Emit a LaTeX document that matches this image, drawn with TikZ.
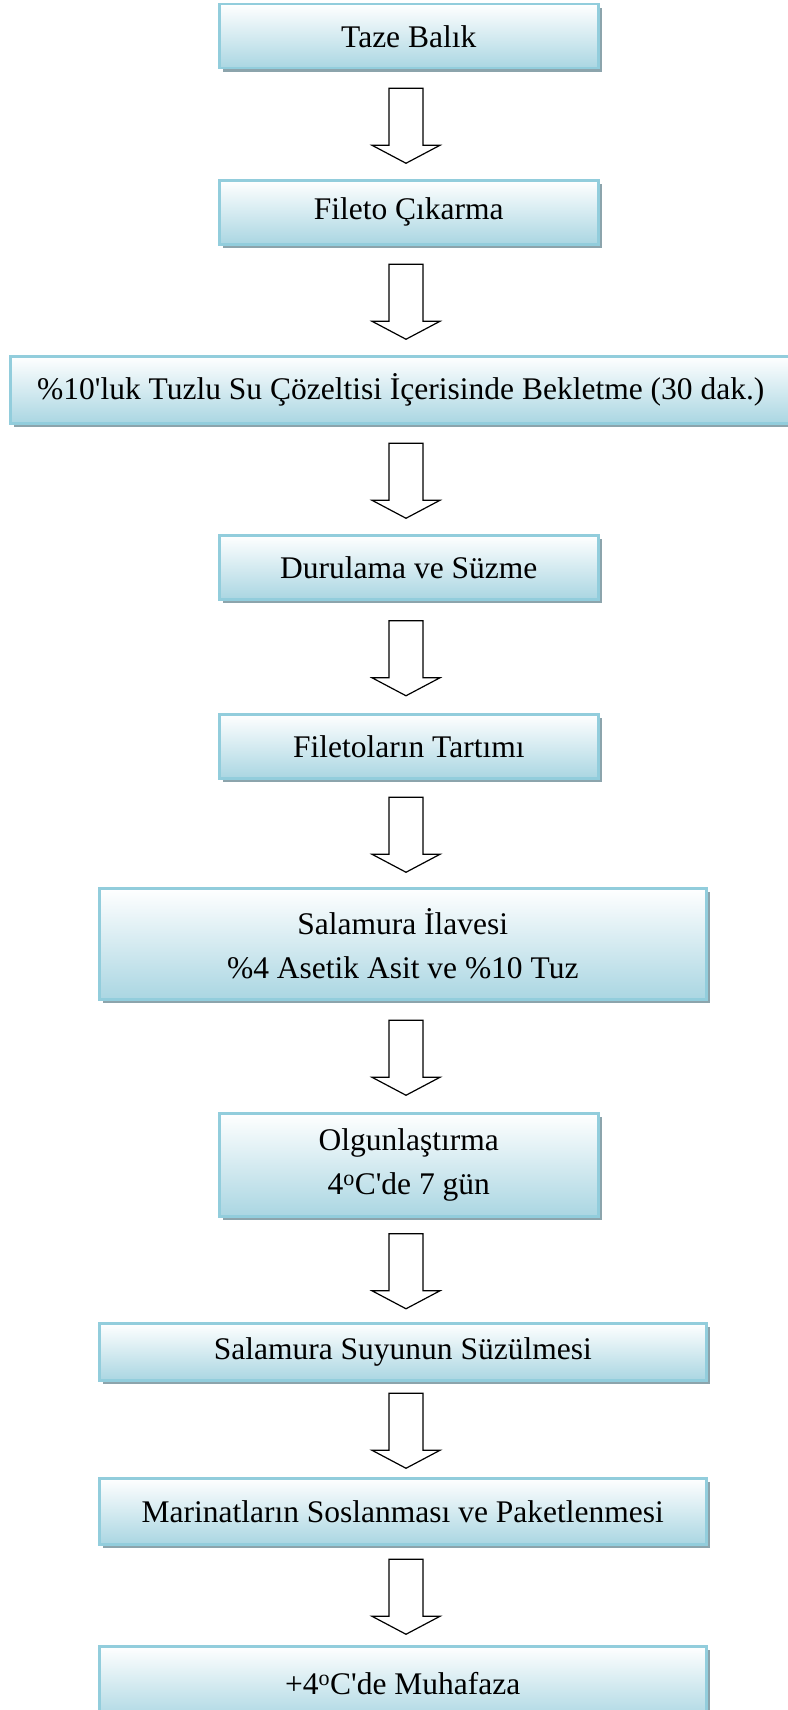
\documentclass[tikz,border=0pt]{standalone}
\usepackage{fontspec}
\setmainfont{Liberation Serif}
\usetikzlibrary{calc,shadows}

\definecolor{edgeblue}{RGB}{146,205,220}
\definecolor{fillblue}{RGB}{170,214,226}
\definecolor{shadowgray}{RGB}{140,164,172}

\begin{document}
\begin{tikzpicture}[x=1pt,y=-1pt,
  stage/.style={draw=edgeblue, line width=2.5pt,
    top color=white, bottom color=fillblue,
    drop shadow={shadow xshift=4pt, shadow yshift=-4pt, fill=shadowgray, opacity=1},
    anchor=north west, inner sep=0pt, align=center,
    font=\fontsize{31.5}{44}\selectfont},
  flow/.style={draw=black, line width=1.2pt, fill=white, line join=miter}]

\useasboundingbox (0,0) rectangle (787,1710);

% process steps
\node[stage, minimum width=379pt, minimum height=64pt]  (b1)  at (218,3)    {Taze Balık};
\node[stage, minimum width=379pt, minimum height=64pt]  (b2)  at (218,179)  {Fileto Çıkarma};
\node[stage, minimum width=781pt, minimum height=67pt]  (b3)  at (9,355)    {\%10\textquotesingle luk Tuzlu Su Çözeltisi İçerisinde Bekletme (30 dak.)};
\node[stage, minimum width=379pt, minimum height=64pt]  (b4)  at (218,534)  {Durulama ve Süzme};
\node[stage, minimum width=379pt, minimum height=64pt]  (b5)  at (218,713)  {Filetoların Tartımı};
\node[stage, minimum width=607pt, minimum height=111pt] (b6)  at (98,887)   {Salamura İlavesi\\\%4 Asetik Asit ve \%10 Tuz};
\node[stage, minimum width=379pt, minimum height=103pt] (b7)  at (218,1112) {Olgunlaştırma\\4\textsuperscript{o}C\textquotesingle de 7 gün};
\node[stage, minimum width=607pt, minimum height=57pt]  (b8)  at (98,1322)  {Salamura Suyunun Süzülmesi};
\node[stage, minimum width=607pt, minimum height=66pt]  (b9)  at (98,1477)  {Marinatların Soslanması ve Paketlenmesi};
\node[stage, minimum width=607pt, minimum height=75pt]  (b10) at (98,1645)  {+4\textsuperscript{o}C\textquotesingle de Muhafaza};

% hollow block arrows between consecutive steps
\coordinate (axis) at (406,0);
\foreach \a/\b in {b1/b2,b2/b3,b3/b4,b4/b5,b5/b6,b6/b7,b7/b8,b8/b9,b9/b10} {
  \path ($(\a.south)!0.5!(\b.north)$) coordinate (m);
  \draw[flow] ($(axis |- m)+(-17,-36)$) -- ++(34,0) -- ++(0,57) -- ++(17,0)
    -- ++(-34,18) -- ++(-34,-18) -- ++(17,0) -- cycle;
}
\end{tikzpicture}
\end{document}
